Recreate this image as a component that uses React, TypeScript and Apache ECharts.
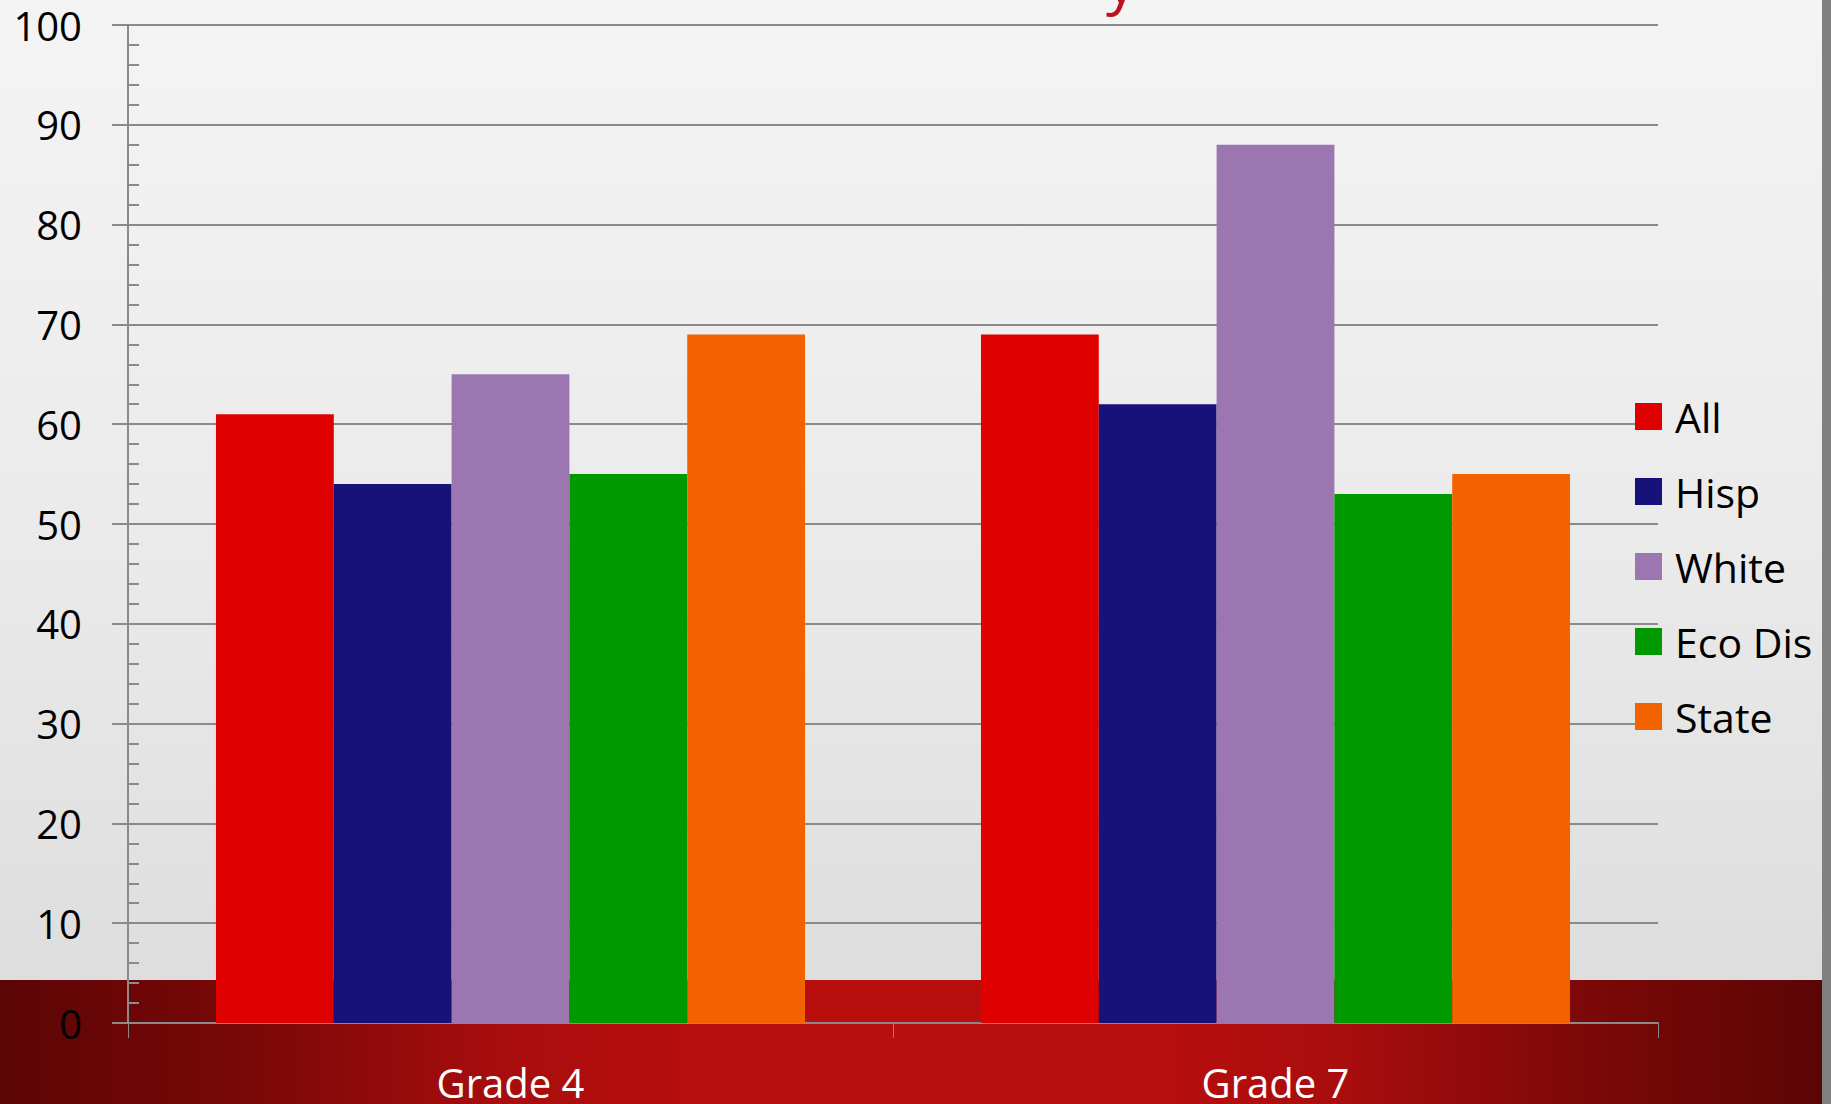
import React, { useEffect, useRef } from "react";
import * as echarts from "echarts";

const categories = ["Grade 4", "Grade 7"];
const seriesNames = ["All", "Hisp", "White", "Eco Dis", "State"];
const allValues = [61, 69];
const hispValues = [54, 62];
const whiteValues = [65, 88];
const ecoDisValues = [55, 53];
const stateValues = [69, 55];
const seriesColors = ["#DF0000", "#17127A", "#9B76B1", "#009900", "#F26300"];
const yTicks = [0, 10, 20, 30, 40, 50, 60, 70, 80, 90, 100];

const FONT = "'Open Sans', 'Noto Sans', sans-serif";

export default function App() {
  const ref = useRef<HTMLDivElement>(null);
  useEffect(() => {
    if (!ref.current) return;
    const chart = echarts.init(ref.current, null, { renderer: "svg" });
    const values = [allValues, hispValues, whiteValues, ecoDisValues, stateValues];
    const axisGray = "#8A8A8A";
    chart.setOption({
      animation: false,
      textStyle: { fontFamily: FONT },
      grid: { left: 128, right: 173, top: 25, bottom: 81, containLabel: false },
      graphic: [
        {
          type: "text",
          left: 1106,
          top: -50,
          style: { text: "y", font: "60px " + FONT, fill: "#C0101A" },
        },
      ],
      legend: {
        orient: "vertical",
        left: 1630,
        top: 391,
        itemWidth: 27,
        itemHeight: 27,
        itemGap: 34,
        icon: "rect",
        data: seriesNames,
        textStyle: {
          fontFamily: FONT,
          fontSize: 41,
          color: "#000",
          lineHeight: 40,
          padding: [0, 0, 0, 8],
        },
      },
      xAxis: {
        type: "category",
        data: categories,
        axisLine: { show: true, lineStyle: { color: axisGray, width: 2 } },
        axisTick: { show: true, length: 15, lineStyle: { color: axisGray, width: 1 } },
        axisLabel: { color: "#FFFFFF", fontSize: 40, fontFamily: FONT, margin: 39 },
        splitLine: { show: false },
      },
      yAxis: [
        {
          type: "value",
          min: yTicks[0],
          max: yTicks[yTicks.length - 1],
          interval: 10,
          axisLine: { show: true, lineStyle: { color: axisGray, width: 2 } },
          axisTick: { show: true, length: 16, lineStyle: { color: axisGray, width: 2 } },
          axisLabel: { color: "#000", fontSize: 40, fontFamily: FONT, margin: 46 },
          splitLine: { show: true, lineStyle: { color: axisGray, width: 2 } },
        },
        {
          type: "value",
          position: "left",
          min: 0,
          max: 100,
          interval: 2,
          axisLine: { show: false },
          axisTick: { show: true, inside: true, length: 11, lineStyle: { color: axisGray, width: 2 } },
          axisLabel: { show: false },
          splitLine: { show: false },
        },
      ],
      series: seriesNames.map((name, i) => ({
        name,
        type: "bar",
        data: values[i],
        barGap: "0%",
        barCategoryGap: "23%",
        itemStyle: { color: seriesColors[i] },
        z: 3,
      })),
    });
    return () => chart.dispose();
  }, []);

  return (
    <div
      style={{
        position: "absolute",
        left: 0,
        top: 0,
        width: 1831,
        height: 1104,
        overflow: "hidden",
        background:
          "linear-gradient(#808080, #808080) right top / 9px 100% no-repeat, " +
          "linear-gradient(to right, #5C0505 0px, #7A0808 250px, #A80D0D 500px, #B80E0E 700px, #B80E0E 1150px, #A80D0D 1350px, #7A0808 1600px, #5C0505 1822px) 0 980px / 1822px 124px no-repeat, " +
          "linear-gradient(#F4F4F4, #EAEAEA 50%, #DADADA)",
      }}
    >
      <div ref={ref} style={{ width: 1831, height: 1104 }} />
    </div>
  );
}
